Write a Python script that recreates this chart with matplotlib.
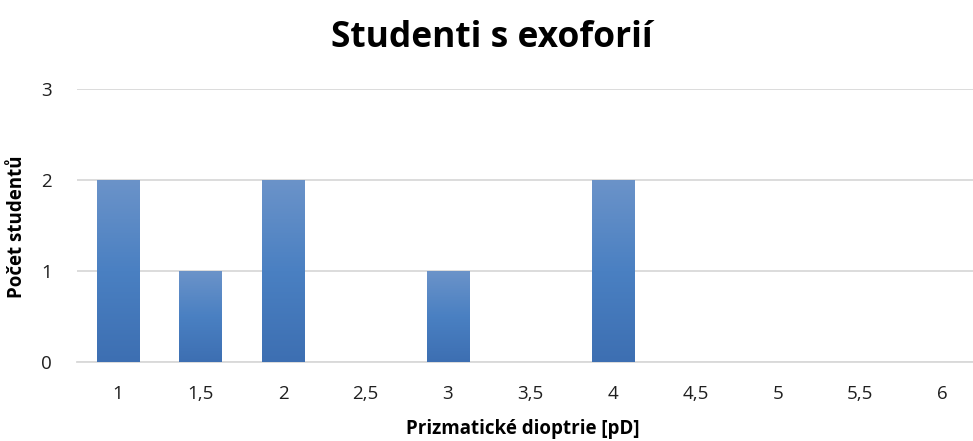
import numpy as np
import matplotlib
matplotlib.use("Agg")
import matplotlib.pyplot as plt
from matplotlib.colors import LinearSegmentedColormap

plt.rcParams['font.family'] = ['Open Sans', 'DejaVu Sans']

categories = ["1", "1,5", "2", "2,5", "3", "3,5", "4", "4,5", "5", "5,5", "6"]
counts = [2, 1, 2, 0, 1, 0, 2, 0, 0, 0, 0]
y_ticks = [0, 1, 2, 3]

title = "Studenti s exoforií"
x_label = "Prizmatické dioptrie [pD]"
y_label = "Počet studentů"

W, H = 973, 441
fig = plt.figure(figsize=(W / 100, H / 100), dpi=100)
ax = fig.add_axes([76.75 / W, 79 / H, (984 - 76.75) / W, (362 - 89) / H])

x = np.arange(len(categories))
bar_w = 0.51
bars = ax.bar(x, counts, width=bar_w, color="none", edgecolor="none", zorder=3)

# vertical gradient inside each bar: lighter at the top, darker at the bottom
cmap = LinearSegmentedColormap.from_list(
    "bar_grad", ["#3d6fb2", "#4a80c2", "#6b93c9"])
grad = np.linspace(0, 1, 256).reshape(-1, 1)
for rect in bars:
    h = rect.get_height()
    if h <= 0:
        continue
    x0 = rect.get_x()
    im = ax.imshow(grad, cmap=cmap, origin="lower", aspect="auto",
                   extent=[x0, x0 + rect.get_width(), 0, h], zorder=3,
                   interpolation="bilinear")
    im.set_clip_path(rect)

ax.set_xlim(-0.5, len(categories) - 0.5)
ax.set_ylim(0, 3)
ax.set_yticks(y_ticks)
ax.set_xticks(x)
ax.set_xticklabels(categories)

ax.grid(axis="y", color="#d9d9d9", linewidth=1.3, zorder=0)
ax.set_axisbelow(True)
for s in ["top", "right", "left"]:
    ax.spines[s].set_visible(False)
ax.spines["bottom"].set_color("#d9d9d9")
ax.spines["bottom"].set_linewidth(1.3)

ax.tick_params(axis="both", length=0, labelsize=13.5, labelcolor="#1f1f1f")
ax.tick_params(axis="x", pad=16.5)
ax.tick_params(axis="y", pad=18)

fig.text(492 / W, 1 - 38 / H, title, ha="center", va="center",
         fontsize=25.5, fontweight="bold", color="#000000")
fig.text(523 / W, 1 - 429 / H, x_label, ha="center", va="center",
         fontsize=13.5, fontweight="bold", color="#000000")
fig.text(17 / W, 1 - 227 / H, y_label, ha="center", va="center",
         rotation=90, fontsize=13.5, fontweight="bold", color="#000000")

fig.savefig("out.png", dpi=100)
